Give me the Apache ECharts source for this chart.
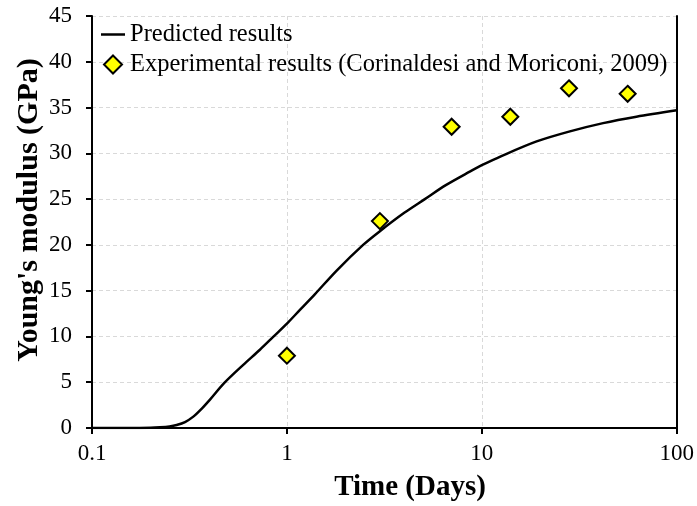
<!DOCTYPE html>
<html>
<head>
<meta charset="utf-8">
<script src="https://cdn.jsdelivr.net/npm/echarts@6/dist/echarts.min.js"></script>
<style>
  html, body { margin: 0; padding: 0; background: #fff; }
  #chart { width: 697px; height: 506px; }
</style>
</head>
<body>
<div id="chart"></div>
<script>
// Model prediction of Young's modulus over time (days, log scale)
const predTime = [0.1, 0.15, 0.2, 0.223, 0.25, 0.272, 0.3, 0.331, 0.365, 0.403, 0.476, 0.597, 0.727, 0.85, 1.0, 1.166, 1.39, 1.8, 2.46, 3.0, 4.0, 5.1, 6.5, 8.67, 10, 12.6, 19.1, 28.3, 41.9, 62.1, 100];
const predE    = [0, 0, 0.02, 0.07, 0.17, 0.33, 0.65, 1.24, 2.1, 3.1, 4.9, 6.9, 8.55, 9.95, 11.4, 12.9, 14.6, 17.2, 20.0, 21.5, 23.5, 25.0, 26.5, 28.0, 28.7, 29.7, 31.3, 32.4, 33.3, 34.0, 34.7];

// Measured values (Corinaldesi and Moriconi, 2009)
const expTime = [1, 3, 7, 14, 28, 56];
const expE    = [7.9, 22.6, 32.9, 34.0, 37.1, 36.5];

const xTicks = [0.1, 1, 10, 100];
const yTicks = [0, 5, 10, 15, 20, 25, 30, 35, 40, 45];

const FONT = '"Liberation Serif", "Times New Roman", serif';
const GRID_LINE = { show: true, lineStyle: { color: '#d9d9d9', type: [4, 3], width: 1 } };
const FRAME = { show: true, lineStyle: { color: '#000', width: 2 } };

const chart = echarts.init(document.getElementById('chart'));
chart.setOption({
  backgroundColor: '#fff',
  animation: false,
  textStyle: { fontFamily: FONT, color: '#000' },
  grid: { left: 92, right: 20, top: 16, bottom: 78 },
  legend: {
    orient: 'vertical',
    left: 96, top: 17,
    itemWidth: 24, itemHeight: 18, itemGap: 5,
    textStyle: { fontFamily: FONT, fontSize: 24.5, color: '#000' },
    data: [
      { name: 'Predicted results', icon: 'path://M0,0H24V2.5H0Z' },
      { name: 'Experimental results (Corinaldesi and Moriconi, 2009)', icon: 'path://M8,0L16,8L8,16L0,8Z' }
    ]
  },
  xAxis: [
    {
      type: 'log', logBase: 10,
      min: xTicks[0], max: xTicks[xTicks.length - 1],
      axisLine: FRAME,
      axisTick: { show: true, inside: false, length: 6, lineStyle: { color: '#000', width: 2 } },
      minorTick: { show: false },
      axisLabel: {
        margin: 14, fontSize: 23, color: '#000', fontFamily: FONT,
        formatter: v => String(+v.toPrecision(3))
      },
      splitLine: GRID_LINE
    },
    {
      // top frame edge
      type: 'log', logBase: 10, position: 'top',
      min: xTicks[0], max: xTicks[xTicks.length - 1],
      axisLine: FRAME, axisTick: { show: false }, axisLabel: { show: false },
      splitLine: { show: false }, minorTick: { show: false }
    }
  ],
  yAxis: [
    {
      type: 'value', min: yTicks[0], max: yTicks[yTicks.length - 1], interval: 5,
      axisLine: FRAME,
      axisTick: { show: true, inside: false, length: 6, lineStyle: { color: '#000', width: 2 } },
      axisLabel: { margin: 20, fontSize: 23, color: '#000', fontFamily: FONT },
      splitLine: GRID_LINE
    },
    {
      // right frame edge
      type: 'value', position: 'right', min: yTicks[0], max: yTicks[yTicks.length - 1], interval: 5,
      axisLine: FRAME, axisTick: { show: false }, axisLabel: { show: false },
      splitLine: { show: false }
    }
  ],
  graphic: [
    {
      type: 'text', x: 410, y: 488,
      style: { text: 'Time (Days)', font: 'bold 29px ' + FONT, fill: '#000',
               align: 'center', verticalAlign: 'middle' }
    },
    {
      type: 'text', x: 29, y: 210, rotation: Math.PI / 2,
      style: { text: "Young's modulus (GPa)", font: 'bold 30px ' + FONT, fill: '#000',
               align: 'center', verticalAlign: 'middle' }
    }
  ],
  series: [
    {
      name: 'Predicted results',
      type: 'line',
      data: predTime.map((t, i) => [t, predE[i]]),
      smooth: 0.3,
      symbol: 'none',
      lineStyle: { color: '#000', width: 2.5 },
      itemStyle: { color: '#000' },
      z: 3
    },
    {
      name: 'Experimental results (Corinaldesi and Moriconi, 2009)',
      type: 'scatter',
      data: expTime.map((t, i) => [t, expE[i]]),
      symbol: 'diamond', symbolSize: 16,
      itemStyle: { color: '#ffff00', borderColor: '#000', borderWidth: 2, opacity: 1 },
      z: 4
    }
  ]
});
</script>
</body>
</html>
